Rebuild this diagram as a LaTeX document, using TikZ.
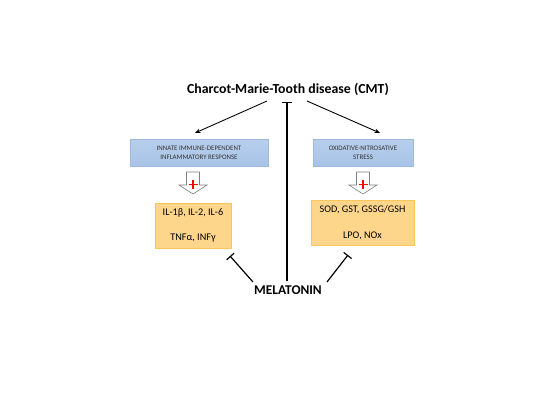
\documentclass[tikz,border=0pt]{standalone}
\usepackage{fontspec}
\setmainfont{Carlito}
\usetikzlibrary{arrows.meta}
\begin{document}
\begin{tikzpicture}[x=1pt,y=-1pt,
  inh/.style={line width=1.2pt, black, -{Bar[width=10pt]}},
  act/.style={line width=0.9pt, black, -{Stealth[length=5.5pt,width=4.5pt]}},
  smalltxt/.style={font=\fontsize{6.9}{9}\selectfont, align=center, text=black!80},
  midtxt/.style={font=\fontsize{10.2}{12}\selectfont, align=center},
]
\useasboundingbox (0,0) rectangle (550,413);
\fill[white] (0,0) rectangle (550,413);
\definecolor{bfill}{HTML}{A7C3E7}
\definecolor{bdraw}{HTML}{9DB9DE}
\definecolor{ofill}{HTML}{FDD68C}
\definecolor{odraw}{HTML}{FAC65A}
\tikzset{
  bluebox/.style={draw=bdraw, top color=bfill!80!white, bottom color=bfill, minimum height=27pt, inner sep=0pt},
  orangebox/.style={draw=odraw, fill=ofill, minimum height=45pt, inner sep=0pt},
}

\node[font=\bfseries\fontsize{13.8}{16}\selectfont] (cmt) at (288,89) {Charcot-Marie-Tooth disease (CMT)};

\node[bluebox, minimum width=138pt] (lb) at (199,152.5) {};
\node[smalltxt] (lbt) at (lb.center) {INNATE IMMUNE-DEPENDENT\\INFLAMMATORY RESPONSE};
\node[bluebox, minimum width=100pt] (rb) at (363,152.5) {};
\node[smalltxt] (rbt) at (rb.center) {OXIDATIVE-NITROSATIVE\\STRESS};

\node[orangebox, minimum width=76pt] (lo) at (193,225.5) {};
\node[midtxt] (lo1) at (193,213) {IL-1β, IL-2, IL-6};
\node[midtxt] (lo2) at (193,238.5) {TNFα, INFγ};
\node[orangebox, minimum width=103pt] (ro) at (362.5,222.5) {};
\node[midtxt] (ro1) at (362.5,210) {SOD, GST, GSSG/GSH};
\node[midtxt] (ro2) at (362.5,236) {LPO, NOx};

\node[font=\bfseries\fontsize{13.4}{15}\selectfont] (mel) at (288,290) {MELATONIN};

% block arrows
\foreach \cx in {193,363}{
  \draw[gray, line width=0.6pt, fill=white] (\cx-6.5,172) -- (\cx+6.5,172) -- (\cx+6.5,185) -- (\cx+14,185) -- (\cx,194) -- (\cx-14,185) -- (\cx-6.5,185) -- cycle;
  \draw[red, line width=1.3pt] (\cx-4.5,184.5) -- (\cx+4.5,184.5) (\cx,180) -- (\cx,189);
}

\coordinate (tl) at (267,101);
\coordinate (tr) at (307,101);
\coordinate (al) at (195,133);
\coordinate (ar) at (380,133);
\draw[act] (tl) -- (al);
\draw[act] (tr) -- (ar);

\coordinate (vtop) at (287,102);
\coordinate (vbot) at (287,281);
\draw[inh] (vbot) -- (vtop);

\coordinate (ml) at (253,282);
\coordinate (mlend) at (230,256);
\coordinate (mr) at (327,282);
\coordinate (mrend) at (348,255);
\draw[inh] (ml) -- (mlend);
\draw[inh] (mr) -- (mrend);
\end{tikzpicture}
\end{document}
